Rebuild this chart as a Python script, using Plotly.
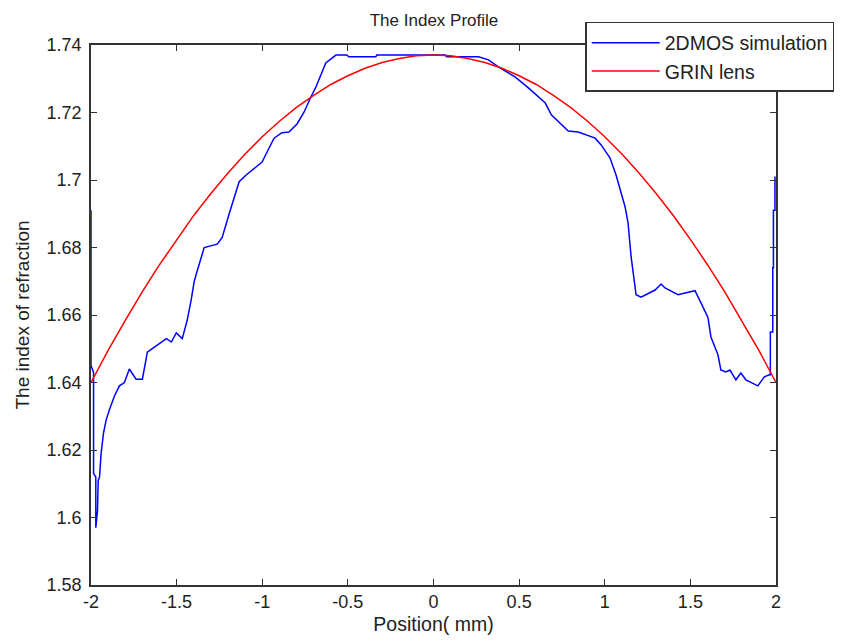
import plotly.graph_objects as go

# 2DMOS simulation (blue)
sim_x = [-2.000, -2.000, -1.985, -1.985, -1.972, -1.972, -1.962, -1.958, -1.950, -1.941,
         -1.927, -1.911, -1.892, -1.863, -1.834, -1.805, -1.776, -1.737, -1.700, -1.671,
         -1.630, -1.560, -1.531, -1.502, -1.467, -1.438, -1.415, -1.397, -1.386, -1.339,
         -1.263, -1.234, -1.193, -1.135, -1.094, -1.001, -0.972, -0.931, -0.885, -0.844,
         -0.797, -0.757, -0.716, -0.687, -0.629, -0.570, -0.506, -0.494, -0.337, -0.331,
         0.071, 0.076, 0.263, 0.321, 0.379, 0.478, 0.554, 0.653, 0.688, 0.729,
         0.787, 0.845, 0.944, 0.979, 1.031, 1.066, 1.119, 1.136, 1.154, 1.183,
         1.212, 1.294, 1.329, 1.352, 1.428, 1.469, 1.527, 1.562, 1.603, 1.620,
         1.661, 1.678, 1.707, 1.731, 1.766, 1.795, 1.824, 1.894, 1.932, 1.961,
         1.967, 1.967, 1.981, 1.981, 1.985, 1.985, 1.994, 1.994]
sim_y = [1.691, 1.645, 1.643, 1.613, 1.612, 1.597, 1.602, 1.611, 1.612, 1.619,
         1.625, 1.629, 1.632, 1.636, 1.639, 1.640, 1.644, 1.641, 1.641, 1.649,
         1.6505, 1.653, 1.652, 1.6547, 1.653, 1.6585, 1.6645, 1.670, 1.672, 1.680,
         1.681, 1.683, 1.690, 1.6995, 1.7015, 1.7053, 1.7083, 1.7124, 1.714, 1.7142,
         1.7166, 1.720, 1.7246, 1.7275, 1.7347, 1.737, 1.737, 1.7365, 1.7365, 1.737,
         1.737, 1.7365, 1.7365, 1.7356, 1.7335, 1.7305, 1.7273, 1.7228, 1.7193, 1.7172,
         1.7145, 1.7142, 1.7124, 1.7104, 1.7065, 1.7015, 1.692, 1.6873, 1.6772, 1.666,
         1.6653, 1.6674, 1.6692, 1.668, 1.666, 1.6665, 1.6672, 1.6636, 1.6592, 1.6535,
         1.6482, 1.6437, 1.6431, 1.6437, 1.6408, 1.6428, 1.6408, 1.6390, 1.6417, 1.6423,
         1.6423, 1.655, 1.655, 1.674, 1.674, 1.691, 1.691, 1.701]

# GRIN lens profile (red)
grin_x = [-2.0, -1.9, -1.8, -1.7, -1.6, -1.5, -1.4, -1.3, -1.2, -1.1, -1.0, -0.9, -0.8,
          -0.7, -0.6, -0.5, -0.4, -0.3, -0.2, -0.1, 0.0, 0.1, 0.2, 0.3, 0.4, 0.5, 0.6,
          0.7, 0.8, 0.9, 1.0, 1.1, 1.2, 1.3, 1.4, 1.5, 1.6, 1.7, 1.8, 1.9, 2.0]
grin_y = [1.640, 1.6495, 1.6584, 1.6669, 1.6749, 1.6824, 1.6895, 1.6960, 1.7021, 1.7077,
          1.7128, 1.7174, 1.7215, 1.7251, 1.7283, 1.7309, 1.7331, 1.7348, 1.7360, 1.7368,
          1.7370, 1.7368, 1.7360, 1.7348, 1.7331, 1.7309, 1.7283, 1.7251, 1.7215, 1.7174,
          1.7128, 1.7077, 1.7021, 1.6960, 1.6895, 1.6824, 1.6749, 1.6669, 1.6584, 1.6495,
          1.640]

x_ticks = [-2, -1.5, -1, -0.5, 0, 0.5, 1, 1.5, 2]
x_tick_labels = ["-2", "-1.5", "-1", "-0.5", "0", "0.5", "1", "1.5", "2"]
y_ticks = [1.58, 1.60, 1.62, 1.64, 1.66, 1.68, 1.70, 1.72, 1.74]
y_tick_labels = ["1.58", "1.6", "1.62", "1.64", "1.66", "1.68", "1.7", "1.72", "1.74"]

FONT = "Liberation Sans, Arial, sans-serif"

fig = go.Figure()
fig.add_trace(go.Scatter(x=sim_x, y=sim_y, mode="lines", name="2DMOS simulation",
                         line=dict(color="#0000ff", width=1.5)))
fig.add_trace(go.Scatter(x=grin_x, y=grin_y, mode="lines", name="GRIN lens",
                         line=dict(color="#ff0000", width=1.5)))

axis_common = dict(showgrid=False, zeroline=False, showline=True, linecolor="#333333",
                   linewidth=1.5, mirror="ticks", ticks="inside", ticklen=6,
                   tickcolor="#333333", tickwidth=1.2, automargin=False,
                   tickfont=dict(family=FONT, size=18, color="#222222"))

fig.update_layout(
    width=846, height=641,
    margin=dict(l=91, r=68, t=45, b=56),
    paper_bgcolor="white", plot_bgcolor="white",
    title=dict(text="The Index Profile", x=(434 / 846), xanchor="center",
               y=1 - 20 / 641, yanchor="middle",
               font=dict(family=FONT, size=17, color="#222222")),
    xaxis=dict(range=[-2, 2], tickvals=x_ticks, ticktext=x_tick_labels,
               title=dict(text="Position( mm)", standoff=6,
                          font=dict(family=FONT, size=19.5, color="#222222")),
               **axis_common),
    yaxis=dict(range=[1.58, 1.74], tickvals=y_ticks, ticktext=y_tick_labels,
               ticklabelstandoff=4,
               title=dict(text="The index of refraction", standoff=12,
                          font=dict(family=FONT, size=19, color="#222222")),
               **axis_common),
    legend=dict(x=0.7215, y=1.0426, xanchor="left", yanchor="top",
                bgcolor="white", bordercolor="#333333", borderwidth=1.5,
                itemwidth=68,
                font=dict(family=FONT, size=19.5, color="#222222"),
                tracegroupgap=0),
    showlegend=True,
)

fig.write_html("out.html")
